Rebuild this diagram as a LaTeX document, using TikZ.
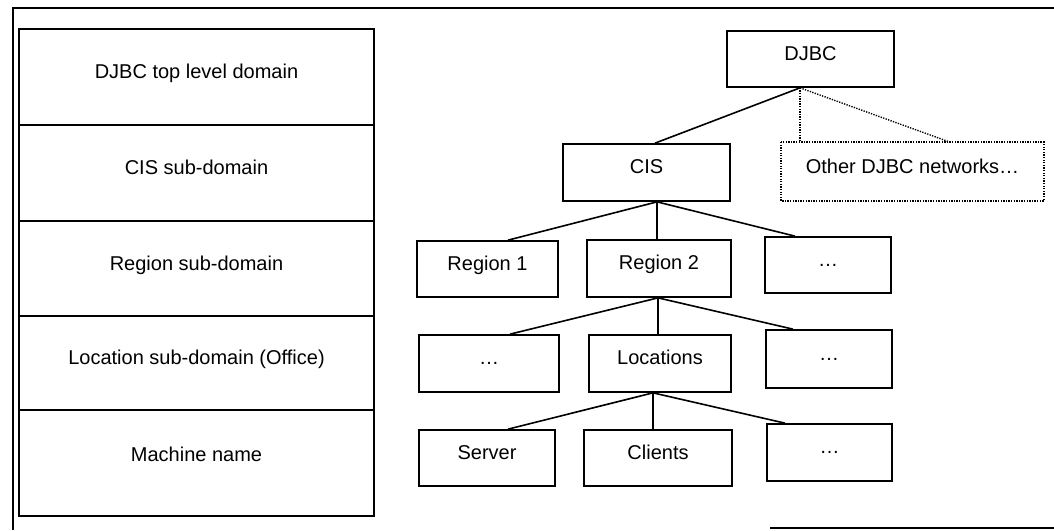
\documentclass[tikz,border=0pt]{standalone}
\usepackage{fontspec}
\setmainfont{Liberation Sans}
\begin{document}
\begin{tikzpicture}[x=1pt,y=-1pt,
  lbl/.style={font=\fontsize{20}{23}\selectfont},
  layer/.style={lbl, draw, line width=1.7pt, inner sep=0pt, minimum width=355pt,
    text height=0.72em, text depth=0.4em},
  tbox/.style={lbl, draw, line width=1.7pt, inner sep=0pt,
    text height=0.72em, text depth=0.5em},
  link/.style={line width=1.6pt},
  dotlink/.style={line width=1.4pt, dash pattern=on 1.3pt off 1.3pt},
  frame/.style={line width=1.4pt}]
\useasboundingbox (0,0) rectangle (1054,530);

% outer frame
\draw[frame] (13,530) -- (13,8) -- (1054,8);
\draw[frame] (770,528) -- (1054,528);

% naming levels
\node[layer, minimum height=96pt] (l1) at (196.5,77) {DJBC top level domain};
\node[layer, minimum height=96pt] (l2) at (196.5,173) {CIS sub-domain};
\node[layer, minimum height=95pt] (l3) at (196.5,268.5) {Region sub-domain};
\node[layer, minimum height=94pt] (l4) at (196.5,363) {Location sub-domain (Office)};
\node[layer, minimum height=106pt, text depth=1em] (l5) at (196.5,463) {Machine name};

% hierarchy
\node[tbox, minimum width=167pt, minimum height=56pt] (djbc) at (810.5,59) {DJBC};
\node[tbox, minimum width=167pt, minimum height=57pt] (cis) at (646.5,172.5) {CIS};
\node[tbox, draw=none, minimum width=261pt, minimum height=57pt, text depth=0.35em] (other) at (912.5,171.5) {Other DJBC networks…};
\draw[dotlink] (other.north west) rectangle (other.south east);

\node[tbox, minimum width=141pt, minimum height=56pt] (r1) at (487.5,269) {Region 1};
\node[tbox, minimum width=144pt, minimum height=57pt] (r2) at (659,268.5) {Region 2};
\node[tbox, minimum width=126pt, minimum height=56pt] (r3) at (828,265) {…};

\node[tbox, minimum width=140pt, minimum height=57pt] (o1) at (489,363.5) {…};
\node[tbox, minimum width=142pt, minimum height=57pt] (loc) at (660,363.5) {Locations};
\node[tbox, minimum width=126pt, minimum height=58pt] (o2) at (829,359) {…};

\node[tbox, minimum width=136pt, minimum height=56pt] (srv) at (487,458) {Server};
\node[tbox, minimum width=148pt, minimum height=56pt] (cli) at (658,458) {Clients};
\node[tbox, minimum width=125pt, minimum height=57pt] (o3) at (829.5,452.5) {…};

% connectors
\coordinate (jd) at ([xshift=-10.5pt]djbc.south);
\draw[link] (jd) -- ([xshift=8.5pt]cis.north);
\draw[dotlink] (jd) -- (jd |- other.north);
\draw[dotlink] (jd) -- ([xshift=37.5pt]other.north);

\coordinate (jc) at ([xshift=10.5pt]cis.south);
\draw[link] (jc) -- ([xshift=20.5pt]r1.north);
\draw[link] (jc) -- (jc |- r2.north);
\draw[link] (jc) -- ([xshift=-33pt]r3.north);

\coordinate (jr) at ([xshift=-1pt]r2.south);
\draw[link] (jr) -- ([xshift=21pt]o1.north);
\draw[link] (jr) -- (jr |- loc.north);
\draw[link] (jr) -- ([xshift=-36pt]o2.north);

\coordinate (jl) at ([xshift=-7pt]loc.south);
\draw[link] (jl) -- ([xshift=21pt]srv.north);
\draw[link] (jl) -- (jl |- cli.north);
\draw[link] (jl) -- ([xshift=-44.5pt]o3.north);
\end{tikzpicture}
\end{document}
